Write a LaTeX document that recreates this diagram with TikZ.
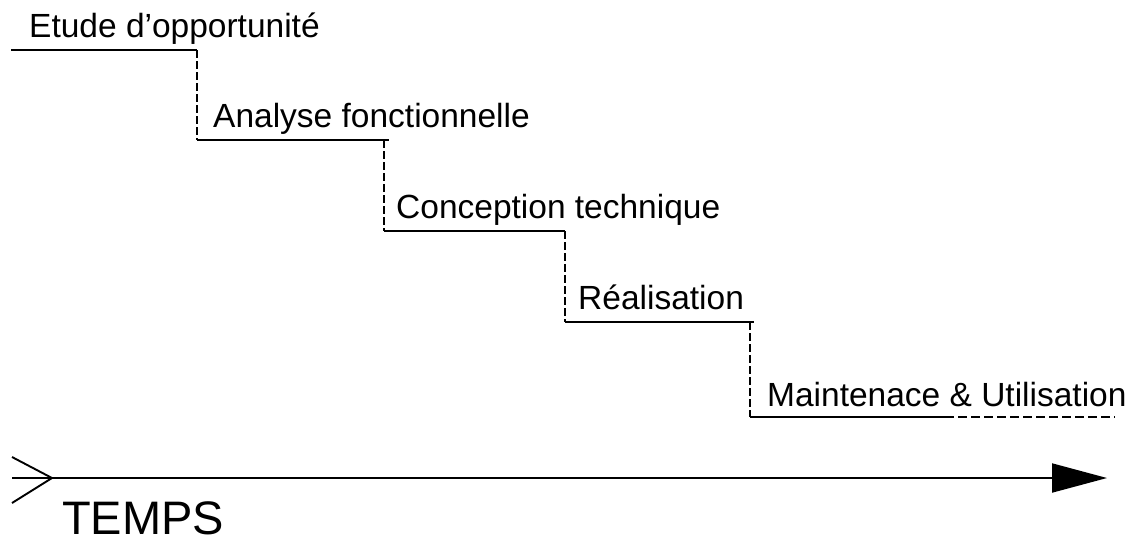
\documentclass[tikz,border=0pt]{standalone}
\usepackage{fontspec}
\setmainfont{Liberation Sans}
\usetikzlibrary{arrows.meta}
\begin{document}
\begin{tikzpicture}[x=1pt,y=-1pt,
  stepline/.style={line width=1.7pt},
  riser/.style={line width=1.5pt, dash pattern=on 8pt off 3pt},
  steplabel/.style={anchor=base west, inner sep=0pt, font=\fontsize{33.5}{40}\selectfont},
  axisline/.style={line width=1.9pt}]
\useasboundingbox (0,0) rectangle (1134,541);

% corners
\coordinate (s1a) at (11,50);   \coordinate (s1b) at (197,50);
\coordinate (s2a) at (197,140); \coordinate (s2b) at (389,140); \coordinate (r2) at (384,140);
\coordinate (s3a) at (384,231); \coordinate (s3b) at (565,231);
\coordinate (s4a) at (565,322); \coordinate (s4b) at (754,322); \coordinate (r4) at (750,322);
\coordinate (s5a) at (750,417); \coordinate (s5m) at (945,417); \coordinate (s5b) at (1115,417);

% labels
\node[steplabel] (t1) at (29,37)  {Etude d’opportunité};
\node[steplabel] (t2) at (213,127) {Analyse fonctionnelle};
\node[steplabel] (t3) at (396,218) {Conception technique};
\node[steplabel] (t4) at (578,309) {Réalisation};
\node[steplabel] (t5) at (767,406) {Maintenace \& Utilisation};

% steps
\draw[stepline] (s1a) -- (s1b);
\draw[stepline] (s2a) -- (s2b);
\draw[stepline] (s3a) -- (s3b);
\draw[stepline] (s4a) -- (s4b);
\draw[stepline] (s5a) -- (s5m);
\draw[stepline, dash pattern=on 9pt off 4pt] (s5m) -- (s5b);

% risers
\draw[riser] (s1b) -- (s2a);
\draw[riser] (r2) -- (s3a);
\draw[riser] (s3b) -- (s4a);
\draw[riser] (r4) -- (s5a);

% time axis
\coordinate (a0) at (12,478);
\coordinate (atip) at (52,478);
\coordinate (aend) at (1107,478);
\coordinate (c1) at (12,457);
\coordinate (c2) at (12,503);
\draw[axisline, -{Triangle[length=55pt,width=29pt]}] (a0) -- (aend);
\draw[axisline] (c1) -- (atip) -- (c2);

\node[anchor=base west, inner sep=0pt, font=\fontsize{47}{56}\selectfont] (temps) at (62,534) {TEMPS};
\end{tikzpicture}
\end{document}
